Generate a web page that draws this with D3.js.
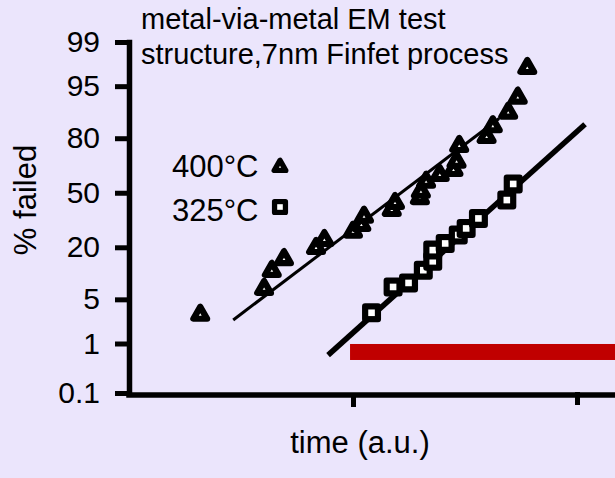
<!DOCTYPE html>
<html>
<head>
<meta charset="utf-8">
<script src="https://cdnjs.cloudflare.com/ajax/libs/d3/7.8.5/d3.min.js"></script>
<style>
  html, body { margin: 0; padding: 0; background: #ebe5fc; }
  svg { display: block; font-family: Arial, "Liberation Sans", sans-serif; }
</style>
</head>
<body>
<div id="chart"></div>
<script>
/*///////////////////////////////////////////////////////////
// Data
///////////////////////////////////////////////////////////*/
var yTicks = [0.1, 1, 5, 20, 50, 80, 95, 99];
var xTicks = [10, 100];

var titleLines = ["metal-via-metal EM test", "structure,7nm Finfet process"];
var seriesNames = ["400°C", "325°C"];

/*400°C, triangles*/
var time400 = [2.08, 4.01, 4.34, 4.92, 6.84, 7.45, 10.0, 10.9, 11.2, 14.9, 15.4, 19.9,
	20.1, 21.2, 24.4, 28.1, 29.0, 29.8, 39.5, 42.1, 49.3, 54.4, 60.0];
var pct400 = [3.0, 6.9, 11.4, 15.3, 19.7, 23.3, 27.4, 30.9, 35.6, 39.5, 43.7, 46.7,
	50.6, 56.7, 60.8, 63.7, 68.4, 76.5, 80.5, 84.8, 89.2, 92.9, 97.3];

/*325°C, squares*/
var time325 = [12.1, 15.1, 17.7, 20.6, 22.7, 22.7, 25.8, 29.5, 32.0, 36.3, 48.6, 51.9];
var pct325 = [3.2, 7.3, 8.2, 11.6, 14.5, 18.8, 21.7, 25.7, 29.1, 34.6, 45.5, 55.4];

/*fitted lines, end points*/
var fitTime400 = [2.92, 44.9];
var fitPct400 = [2.48, 87.4];
var fitTime325 = [7.74, 108.6];
var fitPct325 = [0.61, 85.5];

/*red bar*/
var barTime = [9.7, 160];
var barPct = 0.7;

/*///////////////////////////////////////////////////////////
// Probability (probit) helper
///////////////////////////////////////////////////////////*/
function probit(p) {
	var a = [-3.969683028665376e+01, 2.209460984245205e+02, -2.759285104469687e+02, 1.383577518672690e+02, -3.066479806614716e+01, 2.506628277459239e+00];
	var b = [-5.447609879822406e+01, 1.615858368580409e+02, -1.556989798598866e+02, 6.680131188771972e+01, -1.328068155288572e+01];
	var c = [-7.784894002430293e-03, -3.223964580411365e-01, -2.400758277161838e+00, -2.549732539343734e+00, 4.374664141464968e+00, 2.938163982698783e+00];
	var d = [7.784695709041462e-03, 3.224671290700398e-01, 2.445134137142996e+00, 3.754408661907416e+00];
	var pl = 0.02425, q, r;
	if (p < pl) {
		q = Math.sqrt(-2 * Math.log(p));
		return (((((c[0]*q+c[1])*q+c[2])*q+c[3])*q+c[4])*q+c[5]) / ((((d[0]*q+d[1])*q+d[2])*q+d[3])*q+1);
	}
	if (p > 1 - pl) {
		q = Math.sqrt(-2 * Math.log(1 - p));
		return -(((((c[0]*q+c[1])*q+c[2])*q+c[3])*q+c[4])*q+c[5]) / ((((d[0]*q+d[1])*q+d[2])*q+d[3])*q+1);
	}
	q = p - 0.5; r = q * q;
	return (((((a[0]*r+a[1])*r+a[2])*r+a[3])*r+a[4])*r+a[5])*q / (((((b[0]*r+b[1])*r+b[2])*r+b[3])*r+b[4])*r+1);
}

/*///////////////////////////////////////////////////////////
// Set up
///////////////////////////////////////////////////////////*/
var width = 615, height = 478;

var svg = d3.select("#chart").append("svg")
	.attr("width", width)
	.attr("height", height);

svg.append("rect")
	.attr("width", width)
	.attr("height", height)
	.style("fill", "#ebe5fc");

var x = d3.scaleLog()
	.domain([1, 100])
	.range([129, 577]);

var zScale = d3.scaleLinear()
	.domain([probit(0.001), probit(0.99)])
	.range([393, 42]);

function y(pct) { return zScale(probit(pct / 100)); }

/*///////////////////////////////////////////////////////////
// Axes
///////////////////////////////////////////////////////////*/
var yAxis = d3.axisLeft(zScale)
	.tickValues(yTicks.map(function(p) { return probit(p / 100); }))
	.tickFormat(function(d, i) { return yTicks[i]; })
	.tickSizeInner(14)
	.tickSizeOuter(0)
	.tickPadding(15);

var gy = svg.append("g")
	.attr("transform", "translate(129,0)")
	.call(yAxis);

var xAxis = d3.axisBottom(x)
	.tickValues(xTicks)
	.tickFormat("")
	.tickSizeInner(12)
	.tickSizeOuter(0);

var gx = svg.append("g")
	.attr("transform", "translate(0,395)")
	.call(xAxis);
gx.select(".domain").attr("d", "M129,0H" + width);
gx.selectAll(".tick line")
	.attr("y1", function(d, i) { return i === 1 ? -3 : 0; })
	.attr("y2", function(d, i) { return i === 1 ? 10 : 12; });

svg.selectAll(".domain")
	.style("stroke", "#000")
	.style("stroke-width", 5.5)
	.style("stroke-linecap", "square");
svg.selectAll(".tick line")
	.style("stroke", "#000")
	.style("stroke-width", 5);
gy.selectAll(".tick text")
	.style("font-size", "30px")
	.style("fill", "#000");

/*Axis titles*/
svg.append("text")
	.attr("transform", "translate(36,200) rotate(-90)")
	.attr("text-anchor", "middle")
	.style("font-size", "31px")
	.text("% failed");

svg.append("text")
	.attr("x", 360)
	.attr("y", 453)
	.attr("text-anchor", "middle")
	.style("font-size", "31px")
	.text("time (a.u.)");

/*Title*/
svg.append("text")
	.attr("x", 141)
	.attr("y", 28.5)
	.style("font-size", "29px")
	.selectAll("tspan")
	.data(titleLines)
	.enter().append("tspan")
	.attr("x", 141)
	.attr("dy", function(d, i) { return i === 0 ? 0 : 35.5; })
	.text(function(d) { return d; });

/*///////////////////////////////////////////////////////////
// Red bar
///////////////////////////////////////////////////////////*/
svg.append("rect")
	.attr("x", x(barTime[0]))
	.attr("y", y(barPct) - 8)
	.attr("width", x(barTime[1]) - x(barTime[0]))
	.attr("height", 16)
	.style("fill", "#c00000");

/*///////////////////////////////////////////////////////////
// Fit lines
///////////////////////////////////////////////////////////*/
var line = d3.line()
	.x(function(d) { return x(d[0]); })
	.y(function(d) { return y(d[1]); });

svg.append("path")
	.datum(d3.zip(fitTime400, fitPct400))
	.attr("d", line)
	.style("fill", "none")
	.style("stroke", "#000")
	.style("stroke-width", 3);

svg.append("path")
	.datum(d3.zip(fitTime325, fitPct325))
	.attr("d", line)
	.style("fill", "none")
	.style("stroke", "#000")
	.style("stroke-width", 5.5);

/*///////////////////////////////////////////////////////////
// Markers
///////////////////////////////////////////////////////////*/
var triPath = d3.line()([[0, -8.1], [-7, 4.05], [7, 4.05]]) + "Z";
var triInner = d3.line()([[0, -1.4], [-1.4, 1], [1.4, 1]]) + "Z";

function drawTriangle(g) {
	g.append("path")
		.attr("d", triPath)
		.style("fill", "#000")
		.style("stroke", "#000")
		.style("stroke-width", 6)
		.style("stroke-linejoin", "round");
	g.append("path")
		.attr("d", triInner)
		.style("fill", "#fff");
}

function drawSquare(g) {
	g.append("rect")
		.attr("x", -6.5).attr("y", -6.5)
		.attr("width", 13).attr("height", 13)
		.style("fill", "#000")
		.style("stroke", "#000")
		.style("stroke-width", 6)
		.style("stroke-linejoin", "round");
	g.append("rect")
		.attr("x", -3.3).attr("y", -3.3)
		.attr("width", 6.6).attr("height", 6.6)
		.style("fill", "#fff");
}

svg.append("g").selectAll("g")
	.data(d3.zip(time400, pct400))
	.enter().append("g")
	.attr("transform", function(d) { return "translate(" + x(d[0]) + "," + y(d[1]) + ")"; })
	.each(function() { drawTriangle(d3.select(this)); });

svg.append("g").selectAll("g")
	.data(d3.zip(time325, pct325))
	.enter().append("g")
	.attr("transform", function(d) { return "translate(" + x(d[0]) + "," + y(d[1]) + ")"; })
	.each(function() { drawSquare(d3.select(this)); });

/*///////////////////////////////////////////////////////////
// Legend
///////////////////////////////////////////////////////////*/
var legend = svg.append("g").selectAll("g")
	.data(seriesNames)
	.enter().append("g")
	.attr("transform", function(d, i) { return "translate(0," + (i * 44) + ")"; });

legend.append("text")
	.attr("x", 172)
	.attr("y", 177)
	.style("font-size", "31px")
	.text(function(d) { return d; });

legend.append("g")
	.attr("transform", function(d, i) { return "translate(280," + (i === 0 ? 167 : 163) + ") scale(0.85)"; })
	.each(function(d, i) {
		if (i === 0) drawTriangle(d3.select(this));
		else drawSquare(d3.select(this));
	});
</script>
</body>
</html>
